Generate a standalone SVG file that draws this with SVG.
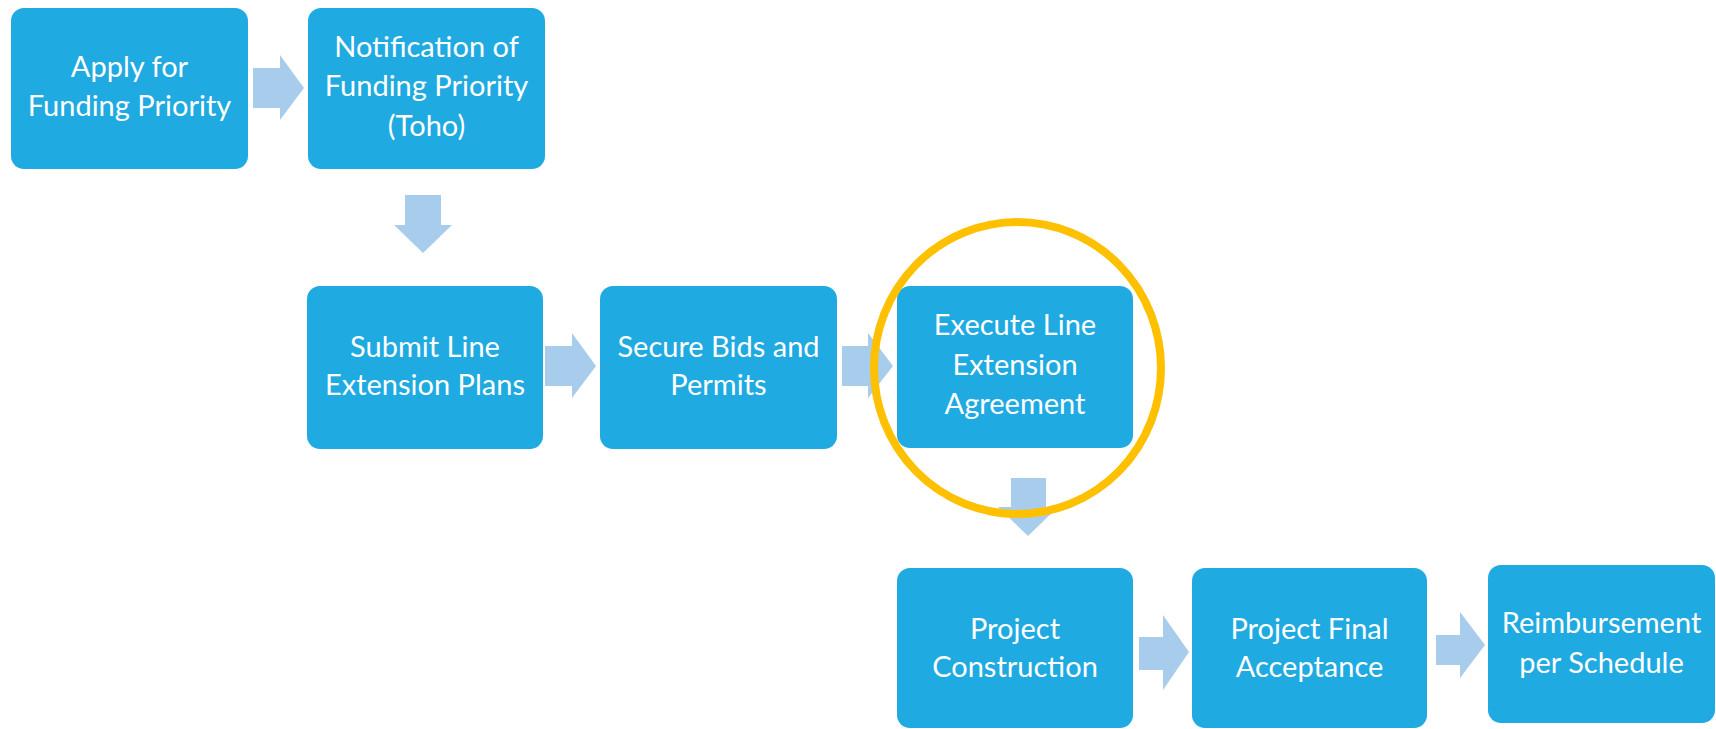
<svg xmlns="http://www.w3.org/2000/svg" width="1716" height="729" viewBox="0 0 1716 729">
<style>
.box{fill:#1FAAE1}
.lbl{font-family:Lato,"Open Sans","Liberation Sans",sans-serif;font-size:29px;fill:#FFFFFF;text-anchor:middle}
.arr{fill:#A8CDEC}
.ring{fill:none;stroke:#FFC000;stroke-width:8}
</style>
<rect width="1716" height="729" fill="#FFFFFF"/>
<g id="connectors">
<polygon class="arr" points="253,68 280,68 280,55 304,88 280,120 280,108 253,108"/>
<polygon class="arr" points="405,195 441,195 441,225 452,225 423,253 394,225 405,225"/>
<polygon class="arr" points="545,346 572,346 572,333 596,366 572,398 572,386 545,386"/>
<polygon class="arr" points="842,346 868,346 868,333 893,366 868,398 868,386 842,386"/>
<polygon class="arr" points="1011,478 1046,478 1046,507 1058,507 1028,536 998,507 1011,507"/>
<polygon class="arr" points="1139,637 1163,637 1163,615 1189,652 1163,690 1163,670 1139,670"/>
<polygon class="arr" points="1436,635 1460,635 1460,612 1485,645 1460,678 1460,665 1436,665"/>
</g>
<g id="n1"><rect class="box" x="11" y="8" width="237" height="161" rx="13"/>
<text class="lbl"><tspan x="129.5" y="77">Apply for</tspan><tspan x="129.5" y="116">Funding Priority</tspan></text></g>
<g id="n2"><rect class="box" x="308" y="8" width="237" height="161" rx="13"/>
<text class="lbl"><tspan x="426.5" y="57">Notification of</tspan><tspan x="426.5" y="96">Funding Priority</tspan><tspan x="426.5" y="136">(Toho)</tspan></text></g>
<g id="n3"><rect class="box" x="307" y="286" width="236" height="163" rx="13"/>
<text class="lbl"><tspan x="425" y="357">Submit Line</tspan><tspan x="425" y="395">Extension Plans</tspan></text></g>
<g id="n4"><rect class="box" x="600" y="286" width="237" height="163" rx="13"/>
<text class="lbl"><tspan x="718.5" y="357">Secure Bids and</tspan><tspan x="718.5" y="395">Permits</tspan></text></g>
<g id="n5"><rect class="box" x="897" y="286" width="236" height="162" rx="13"/>
<text class="lbl"><tspan x="1015" y="335">Execute Line</tspan><tspan x="1015" y="375">Extension</tspan><tspan x="1015" y="414">Agreement</tspan></text></g>
<g id="n6"><rect class="box" x="897" y="568" width="236" height="160" rx="13"/>
<text class="lbl"><tspan x="1015" y="639">Project</tspan><tspan x="1015" y="677">Construction</tspan></text></g>
<g id="n7"><rect class="box" x="1192" y="568" width="235" height="160" rx="13"/>
<text class="lbl"><tspan x="1309.5" y="639">Project Final</tspan><tspan x="1309.5" y="677">Acceptance</tspan></text></g>
<g id="n8"><rect class="box" x="1488" y="565" width="227" height="158" rx="13"/>
<text class="lbl"><tspan x="1601.5" y="633">Reimbursement</tspan><tspan x="1601.5" y="673">per Schedule</tspan></text></g>
<g id="highlight"><ellipse class="ring" cx="1017.5" cy="368" rx="143.5" ry="146"/></g>
</svg>
